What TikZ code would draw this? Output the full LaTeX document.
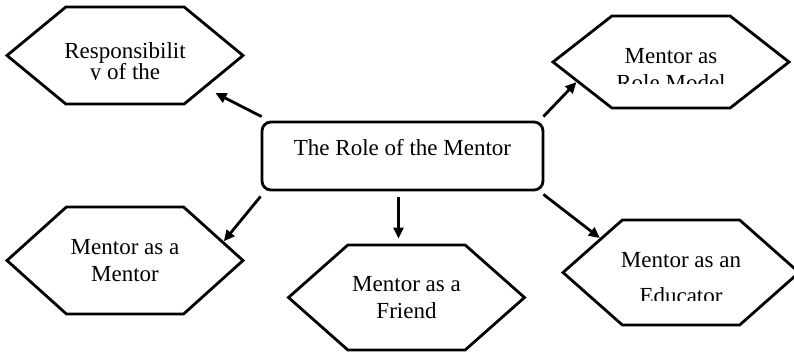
\documentclass[tikz,border=0pt]{standalone}
\usepackage{fontspec}
\setmainfont{Liberation Serif}
\usepackage{tikz}
\usetikzlibrary{shapes.symbols, arrows.meta}
\newcommand{\hexfont}{\fontsize{23}{26.7}\selectfont}

\begin{document}
\begin{tikzpicture}[
        x=1pt, y=-1pt,
        hexa/.style={signal, signal to=east and west, draw, line width=2.8pt, minimum width=236pt, inner sep=0pt, align=center, font=\hexfont},
        hubbox/.style={rectangle, draw, rounded corners=9pt, line width=2.8pt, minimum width=281pt, inner xsep=0pt, inner ysep=0pt, text height=34pt, text depth=34pt, font=\hexfont},
        cut/.style n args={3}{path picture={
            \clip (path picture bounding box.north west) rectangle ([yshift=-#1]path picture bounding box.east);
            \node[rectangle, draw=none, fill=none, inner sep=0pt, minimum size=0pt, align=center, font=\hexfont, yshift=-#2] at (path picture bounding box.center) {#3};}},
        arrow/.style={-{Triangle[length=11pt, width=10pt]}, line width=2.8pt}
    ]
        \useasboundingbox (0,0) rectangle (794,352);
        \node[hubbox] (hub) at (402.5,156) {The Role of the Mentor};
        \node[hexa, minimum height=97pt, signal pointer angle=79, cut={24.5pt}{7.6pt}{Responsibilit\\[-5.7pt]y of the}] (resp) at (125,55.5) {};
        \node[hexa, minimum height=92pt, signal pointer angle=76, cut={21.3pt}{7.4pt}{Mentor as\\Role Model}] (role) at (671,62) {};
        \node[hexa, minimum height=107pt, signal pointer angle=84] (mentor) at (125,260.5) {Mentor as a\\Mentor};
        \node[hexa, minimum height=105pt, signal pointer angle=83] (friend) at (406.5,297.5) {Mentor as a\\Friend};
        \node[hexa, minimum height=105pt, signal pointer angle=83, cut={27.5pt}{5.4pt}{Mentor as an\\[9.6pt]Educator}] (edu) at (681,272.5) {};
        \draw[arrow, shorten >=11pt] ([shift={(1pt,4pt)}]hub.north west) -- (resp.-22);
        \draw[arrow] ([shift={(-1pt,4pt)}]hub.north east) -- (role.192);
        \draw[arrow, shorten <=6pt, shorten >=5pt] ([xshift=-4pt]hub.south) -- ([xshift=-4pt]hub.south |- friend.north);
        \draw[arrow] ([yshift=-5pt]hub.south west) -- (mentor.11);
        \draw[arrow] ([shift={(-1pt,-3pt)}]hub.south east) -- (edu.157);
    \end{tikzpicture}
\end{document}
